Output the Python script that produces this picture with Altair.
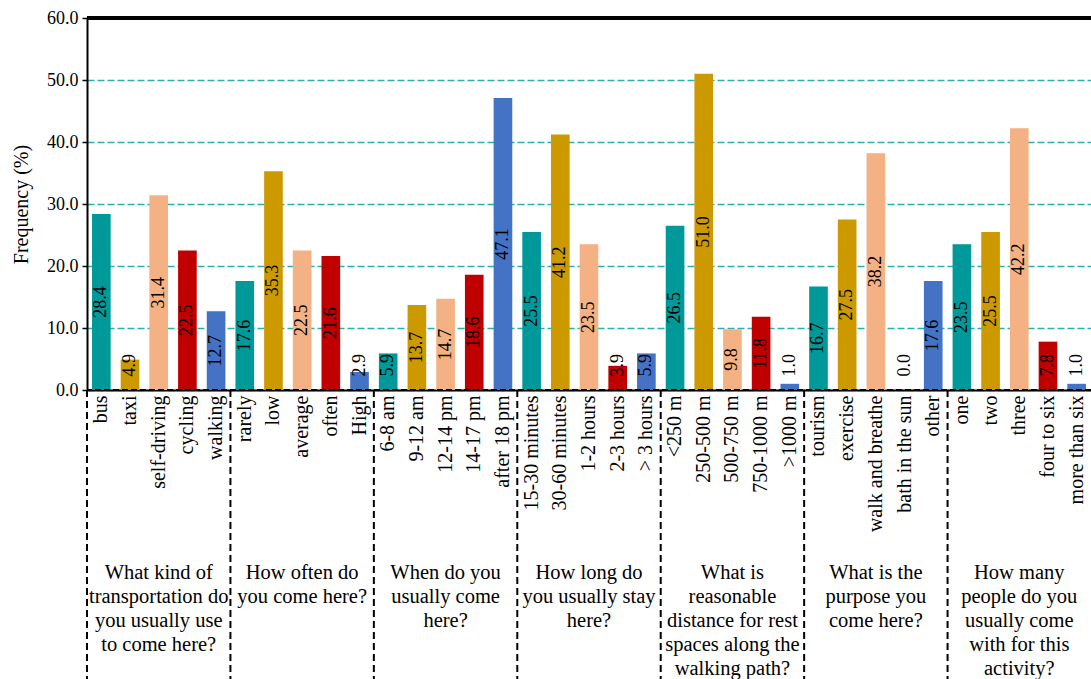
import altair as alt
import pandas as pd

# Survey questions (multi-line captions under each group)
question_lines = [
    ["What kind of", "transportation do", "you usually use", "to come here?"],
    ["How often do", "you come here?"],
    ["When do you", "usually come", "here?"],
    ["How long do", "you usually stay", "here?"],
    ["What is", "reasonable", "distance for rest", "spaces along the", "walking path?"],
    ["What is the", "purpose you", "come here?"],
    ["How many", "people do you", "usually come", "with for this", "activity?"],
]

# Answer options per question
options = [
    ["bus", "taxi", "self-driving", "cycling", "walking"],
    ["rarely", "low", "average", "often", "High"],
    ["6-8 am", "9-12 am", "12-14 pm", "14-17 pm", "after 18 pm"],
    ["15-30 minutes", "30-60 minutes", "1-2 hours", "2-3 hours", "> 3 hours"],
    ["<250 m", "250-500 m", "500-750 m", "750-1000 m", ">1000 m"],
    ["tourism", "exercise", "walk and breathe", "bath in the sun", "other"],
    ["one", "two", "three", "four to six", "more than six"],
]

# Frequency (%) of each answer
frequency = [
    [28.4, 4.9, 31.4, 22.5, 12.7],
    [17.6, 35.3, 22.5, 21.6, 2.9],
    [5.9, 13.7, 14.7, 18.6, 47.1],
    [25.5, 41.2, 23.5, 3.9, 5.9],
    [26.5, 51.0, 9.8, 11.8, 1.0],
    [16.7, 27.5, 38.2, 0.0, 17.6],
    [23.5, 25.5, 42.2, 7.8, 1.0],
]

palette = ["#009999", "#CC9900", "#F4B183", "#C00000", "#4472C4"]
FONT = "Liberation Serif"

rows = []
for qi, (opts, vals) in enumerate(zip(options, frequency)):
    for pi, (opt, val) in enumerate(zip(opts, vals)):
        rows.append({"option": opt, "value": val, "pos": pi, "q": qi})
answers = pd.DataFrame(rows)
order = answers["option"].tolist()

# group captions sit under the middle option; dividers at the first option
captions = pd.DataFrame({"option": [o[2] for o in options], "lines": question_lines})
dividers = pd.DataFrame({"option": [o[0] for o in options]})

x_scale = alt.Scale(domain=order, paddingInner=0, paddingOuter=0)
x_axis = alt.Axis(
    title=None, labelAngle=270, labelAlign="right", labelBaseline="middle",
    labelPadding=5, ticks=False, domainColor="black", domainWidth=2,
    labelFont=FONT, labelFontSize=20, labelColor="black", labelLimit=400,
)
y_scale = alt.Scale(domain=[0, 60])
y_axis = alt.Axis(
    title="Frequency (%)", values=[0, 10, 20, 30, 40, 50, 60], format=".1f",
    grid=True, gridColor="#2AAFAE", gridDash=[7, 3], gridWidth=1.3,
    domainColor="black", domainWidth=2, tickColor="black", tickSize=5,
    tickWidth=1.5, labelFont=FONT, labelFontSize=18, labelColor="black",
    labelPadding=4, titleFont=FONT, titleFontSize=20, titleFontWeight="normal",
    titleColor="black", titleX=-66, titleY=186, titleAngle=270,
    titleAlign="center", titleBaseline="middle",
)

x_enc = alt.X("option:N", scale=x_scale, axis=x_axis)

bars = alt.Chart(answers).mark_bar(width=alt.RelativeBandSize(0.65)).encode(
    x=x_enc,
    y=alt.Y("value:Q", scale=y_scale, axis=y_axis),
    color=alt.Color("pos:O", scale=alt.Scale(domain=[0, 1, 2, 3, 4], range=palette), legend=None),
)

values = alt.Chart(answers).transform_calculate(
    lab_y="max(datum.value / 2, 4)"
).mark_text(angle=270, align="center", baseline="middle", font=FONT, fontSize=18, color="black").encode(
    x=x_enc,
    y=alt.Y("lab_y:Q", scale=y_scale, axis=y_axis),
    text=alt.Text("value:Q", format=".1f"),
)

base_dash = alt.Chart(answers).mark_rule(color="black", strokeDash=[6, 3], strokeWidth=1.5).encode(
    y=alt.datum(0)
)

top_border = alt.Chart(answers).mark_rule(color="black", strokeWidth=3).encode(
    y=alt.datum(60)
)

divider_rules = alt.Chart(dividers).mark_rule(color="black", strokeDash=[7, 4], strokeWidth=2).encode(
    x=alt.X("option:N", scale=x_scale, axis=x_axis, bandPosition=0),
    y=alt.value(372),
    y2=alt.value(700),
)

caption_text = alt.Chart(captions).mark_text(
    align="center", baseline="top", font=FONT, fontSize=20.5, lineHeight=24, color="black"
).encode(
    x=x_enc,
    y=alt.value(545),
    text="lines",
)

chart = alt.layer(bars, values, base_dash, top_border, divider_rules, caption_text).properties(
    width=1004,
    height=372,
    autosize=alt.AutoSizeParams(type="none"),
    padding={"left": 87, "top": 18, "right": 0, "bottom": 289},
).configure_view(stroke=None)

chart.save("out.html", embed_options={"renderer": "svg", "actions": False})
